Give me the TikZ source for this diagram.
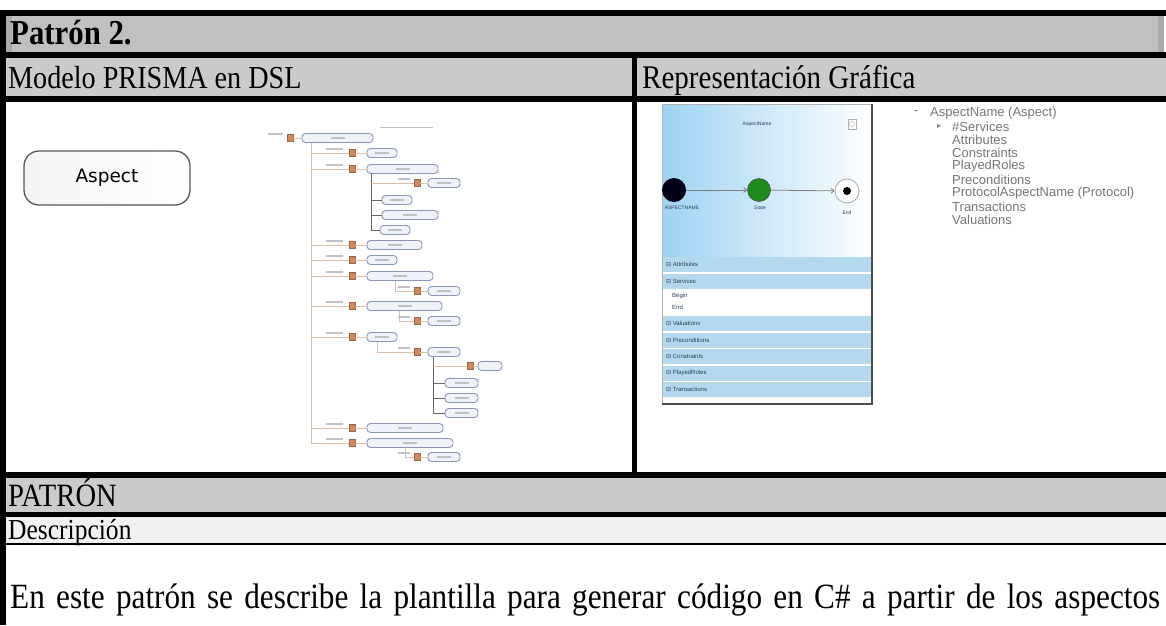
\documentclass[tikz,border=0pt]{standalone}
\usepackage{fontspec}
\setmainfont{Liberation Serif}[FakeStretch=0.88]
\newfontfamily\uisans{Liberation Sans}
\newfontfamily\dvsans{DejaVu Sans}
\usetikzlibrary{arrows.meta,calc}

\definecolor{rowA}{HTML}{C0C0C0}
\definecolor{rowB}{HTML}{CBCBCB}
\definecolor{rowEdge}{HTML}{ABABAB}
\definecolor{descBg}{HTML}{F1F1F1}
\definecolor{treeLine}{HTML}{DDBFA8}
\definecolor{treeBox}{HTML}{8D96B8}
\definecolor{treeFill}{HTML}{F0F2FA}
\definecolor{treeIcon}{HTML}{CC8A5E}
\definecolor{treeText}{HTML}{BFC0C8}
\definecolor{skyBlue}{HTML}{9FD3F2}
\definecolor{bandBlue}{HTML}{B4D9EE}
\definecolor{bandText}{HTML}{2C3E5A}
\definecolor{stateGreen}{HTML}{1E8C1E}
\definecolor{listGray}{HTML}{767676}

\newcommand\collapsemark{{\dvsans ⊟}}

\tikzset{
  rowtext/.style={anchor=base west, inner sep=0pt, text=black},
  tbox/.style={draw=treeBox, fill=treeFill, rounded corners=3.5pt, line width=0.9pt, inner sep=0pt, minimum height=9pt},
  ticon/.style={fill=treeIcon, draw=treeIcon!75!black, line width=0.3pt, minimum width=6pt, minimum height=7pt, inner sep=0pt},
  tlink/.style={draw=treeLine, line width=0.8pt},
  tmark/.style={draw=treeText, line width=1.3pt},
  bandtext/.style={anchor=west, inner sep=0pt, font=\uisans\fontsize{6}{6}\selectfont, text=bandText},
  statelabel/.style={inner sep=0pt, font=\uisans\fontsize{5}{5}\selectfont, text=bandText},
  listtext/.style={anchor=west, inner sep=0pt, font=\uisans\fontsize{13}{13}\selectfont, text=listGray},
  flow/.style={draw=gray, line width=0.8pt, -{Straight Barb[length=3pt,width=5pt]}},
}

% tree box: name, left x, right x, centre y
\newcommand\tnode[4]{%
  \node[tbox, minimum width={#3pt-#2pt}] (#1) at ({(#2+#3)/2},#4) {};
  \draw[tmark] ([xshift=-7pt]#1.center) -- ([xshift=7pt]#1.center);}
% first-level entry hanging from the trunk: name, y, right x of box
\newcommand\trow[3]{%
  \node[ticon] (#1i) at (352,#2) {};
  \tnode{#1}{367}{#3}{#2}
  \draw[tlink] (trunk |- #1i) -- (#1i);
  \draw[tlink] (#1i) -- (#1);
  \draw[tmark] (326,#2-4) -- (343,#2-4);}
% nested entry dropping from the box above: name, parent, y
\newcommand\tsub[3]{%
  \node[ticon] (#1i) at (417,#3) {};
  \tnode{#1}{428}{460}{#3}
  \draw[tlink] ([xshift=-5pt]#2.south) |- (#1i);
  \draw[tlink] (#1i) -- (#1);
  \draw[tmark] (398,#3-4) -- (410,#3-4);}

\begin{document}
\begin{tikzpicture}[x=1pt,y=-1pt]
\useasboundingbox (0,0) rectangle (1166,625);
\fill[white] (0,0) rectangle (1166,625);

% ---------- table frame ----------
\fill[rowA] (6,16) rectangle (1166,52);
\fill[rowEdge] (6,16) rectangle (12,52);
\fill[rowEdge] (1158,16) rectangle (1164,52);
\fill[white] (1164,16) rectangle (1166,52);
\fill[rowB] (6,58) rectangle (632,96);
\fill[rowB] (637,58) rectangle (1166,96);
\fill[rowB] (6,478) rectangle (1166,512);
\fill[descBg] (6,517) rectangle (1166,543);

\fill[black] (0,10) rectangle (1166,16);
\fill[black] (0,52) rectangle (1166,58);
\fill[black] (0,96) rectangle (1166,102);
\fill[black] (0,472) rectangle (1166,478);
\fill[black] (0,512) rectangle (1166,517);
\fill[black] (0,543) rectangle (1166,545);
\fill[black] (632,52) rectangle (637,478);
\fill[black] (0,10) rectangle (6,625);

% ---------- row headings ----------
\node[rowtext, font=\bfseries\fontsize{35}{35}\selectfont] (title) at (10,44) {Patrón 2.};
\node[rowtext, font=\fontsize{32}{32}\selectfont] (colL) at (8,88) {Modelo PRISMA en DSL};
\node[rowtext, font=\fontsize{33}{33}\selectfont] (colR) at (642,88) {Representación Gráfica};
\node[rowtext, font=\fontsize{32.5}{32.5}\selectfont] (patron) at (8,506) {PATRÓN};
\node[rowtext, font=\fontsize{29}{29}\selectfont] (desc) at (8,539) {Descripción};
\node[rowtext, font=\fontsize{35.5}{35.5}\selectfont] (body) at (10,608)
  {\makebox[1150pt][s]{En este patrón se describe la plantilla para generar código en C\# a partir de los aspectos}};

% ---------- DSL shape ----------
\node[draw=black!65, line width=1.3pt, rounded corners=15pt, minimum width=166pt, minimum height=54pt,
      left color=black!4, right color=white, inner sep=0pt,
      font=\dvsans\fontsize{18.5}{18.5}\selectfont] (aspect) at (107,178) {Aspect};

% ---------- DSL model tree ----------
\coordinate (trunk) at (311,143);
\draw[tlink] (311,143) -- (311,443);
\node[ticon] (t0i) at (290,138) {};
\tnode{t0}{302}{373}{138}
\draw[tlink] (t0i) -- (t0);
\draw[tmark] (268,134) -- (283,134);
\draw[draw=treeText, line width=0.8pt] (380,127) -- (433,127);

\trow{r1}{153}{397}
\trow{r2}{169}{438}
\trow{r3}{245}{422}
\trow{r4}{260}{397}
\trow{r5}{276}{433}
\trow{r6}{306}{442}
\trow{r7}{337}{397}
\trow{r8}{428}{443}
\trow{r9}{443}{453}

% children of the second entry
\coordinate (sub2) at (371,173);
\draw[draw=black!60, line width=0.9pt] (371,173) -- (371,230);
\node[ticon] (s1i) at (417,183) {};
\tnode{s1}{428}{460}{183}
\draw[tlink] (sub2 |- s1i) -- (s1i);
\draw[tlink] (s1i) -- (s1);
\draw[tmark] (398,179) -- (410,179);
\tnode{s2}{382}{412}{200}
\tnode{s3}{382}{438}{215}
\tnode{s4}{380}{410}{230}
\foreach \n in {s2,s3,s4} \draw[draw=black!60, line width=0.9pt] (sub2 |- \n) -- (\n);

% single children
\tsub{c5}{r5}{291}
\tsub{c6}{r6}{321}
\tsub{c7}{r7}{352}
\tsub{c9}{r9}{457}

% children of the nested entry
\coordinate (sub7) at (433,357);
\draw[draw=black!60, line width=0.9pt] (433,357) -- (433,413);
\node[ticon] (g1i) at (470,366) {};
\node[tbox, minimum width=24pt] (g1) at (490,366) {};
\draw[tlink] (sub7 |- g1i) -- (g1i);
\draw[tlink] (g1i) -- (g1);
\tnode{g2}{445}{478}{383}
\tnode{g3}{445}{478}{398}
\tnode{g4}{445}{478}{413}
\foreach \n in {g2,g3,g4} \draw[draw=black!60, line width=0.9pt] (sub7 |- \n) -- (\n);

% ---------- graphical representation panel ----------
\fill[white] (662,104) rectangle (872,404);
\shade[left color=skyBlue, right color=white] (662,104) rectangle (872,256);
\fill[bandBlue] (662,257) rectangle (872,272);
\fill[bandBlue] (662,274) rectangle (872,289);
\fill[bandBlue] (662,316) rectangle (872,331);
\fill[bandBlue] (662,333) rectangle (872,348);
\fill[bandBlue] (662,349) rectangle (872,364);
\fill[bandBlue] (662,366) rectangle (872,381);
\fill[bandBlue] (662,382) rectangle (872,397);
\draw[gray!60, line width=0.8pt] (662,104) rectangle (872,404);
\draw[black!70, line width=1.6pt] (872,104) -- (872,404) -- (662,404);

\node[statelabel] (pname) at (757,124) {AspectName};
\node[draw=gray!60, fill=white, minimum width=8pt, minimum height=10pt, inner sep=0pt] (pbtn) at (852,124) {};
\node[draw=gray!70, circle, minimum size=5pt, inner sep=0pt] (pbtnc) at (pbtn) {};

\node[circle, fill=black!92!blue, minimum size=24pt, inner sep=0pt] (sInit) at (674,190) {};
\node[circle, fill=stateGreen, draw=black!70, line width=0.6pt, minimum size=23pt, inner sep=0pt] (sState) at (759,190) {};
\node[circle, fill=white, draw=gray!70, line width=0.8pt, minimum size=24pt, inner sep=0pt] (sEnd) at (847,191) {};
\node[circle, fill=black, minimum size=8pt, inner sep=0pt] (sEndDot) at (sEnd) {};
\draw[flow] (sInit) -- (sState);
\draw[flow] (sState) -- (sEnd);
\node[statelabel] (lInit) at (682,208) {ASPECTNAME};
\node[statelabel] (lState) at (760,208) {State};
\node[statelabel] (lEnd) at (847,213) {End};

\node[bandtext] (bAttr) at (666,264) {\collapsemark\ Attributes};
\node[bandtext] (bServ) at (666,281) {\collapsemark\ Services};
\node[bandtext] (bBegin) at (672,296) {Begin};
\node[bandtext] (bEnd) at (672,307) {End};
\node[bandtext] (bVal) at (666,323) {\collapsemark\ Valuations};
\node[bandtext] (bPre) at (666,340) {\collapsemark\ Preconditions};
\node[bandtext] (bCon) at (666,356) {\collapsemark\ Constraints};
\node[bandtext] (bPla) at (666,373) {\collapsemark\ PlayedRoles};
\node[bandtext] (bTra) at (666,389) {\collapsemark\ Transactions};

% ---------- explorer list ----------
\node[listtext] (lDash) at (914,113) {-};
\node[listtext] (l0) at (930,113) {AspectName (Aspect)};
\node[listtext, font=\dvsans\fontsize{8}{8}\selectfont] (lArrow) at (937,126.4) {▸};
\node[listtext] (l1) at (952,126.4) {\#Services};
\node[listtext] (l2) at (952,139.8) {Attributes};
\node[listtext] (l3) at (952,153.2) {Constraints};
\node[listtext] (l4) at (952,166.6) {PlayedRoles};
\node[listtext] (l5) at (952,180) {Preconditions};
\node[listtext] (l6) at (952,193.4) {ProtocolAspectName (Protocol)};
\node[listtext] (l7) at (952,206.8) {Transactions};
\node[listtext] (l8) at (952,220.2) {Valuations};
\end{tikzpicture}
\end{document}
